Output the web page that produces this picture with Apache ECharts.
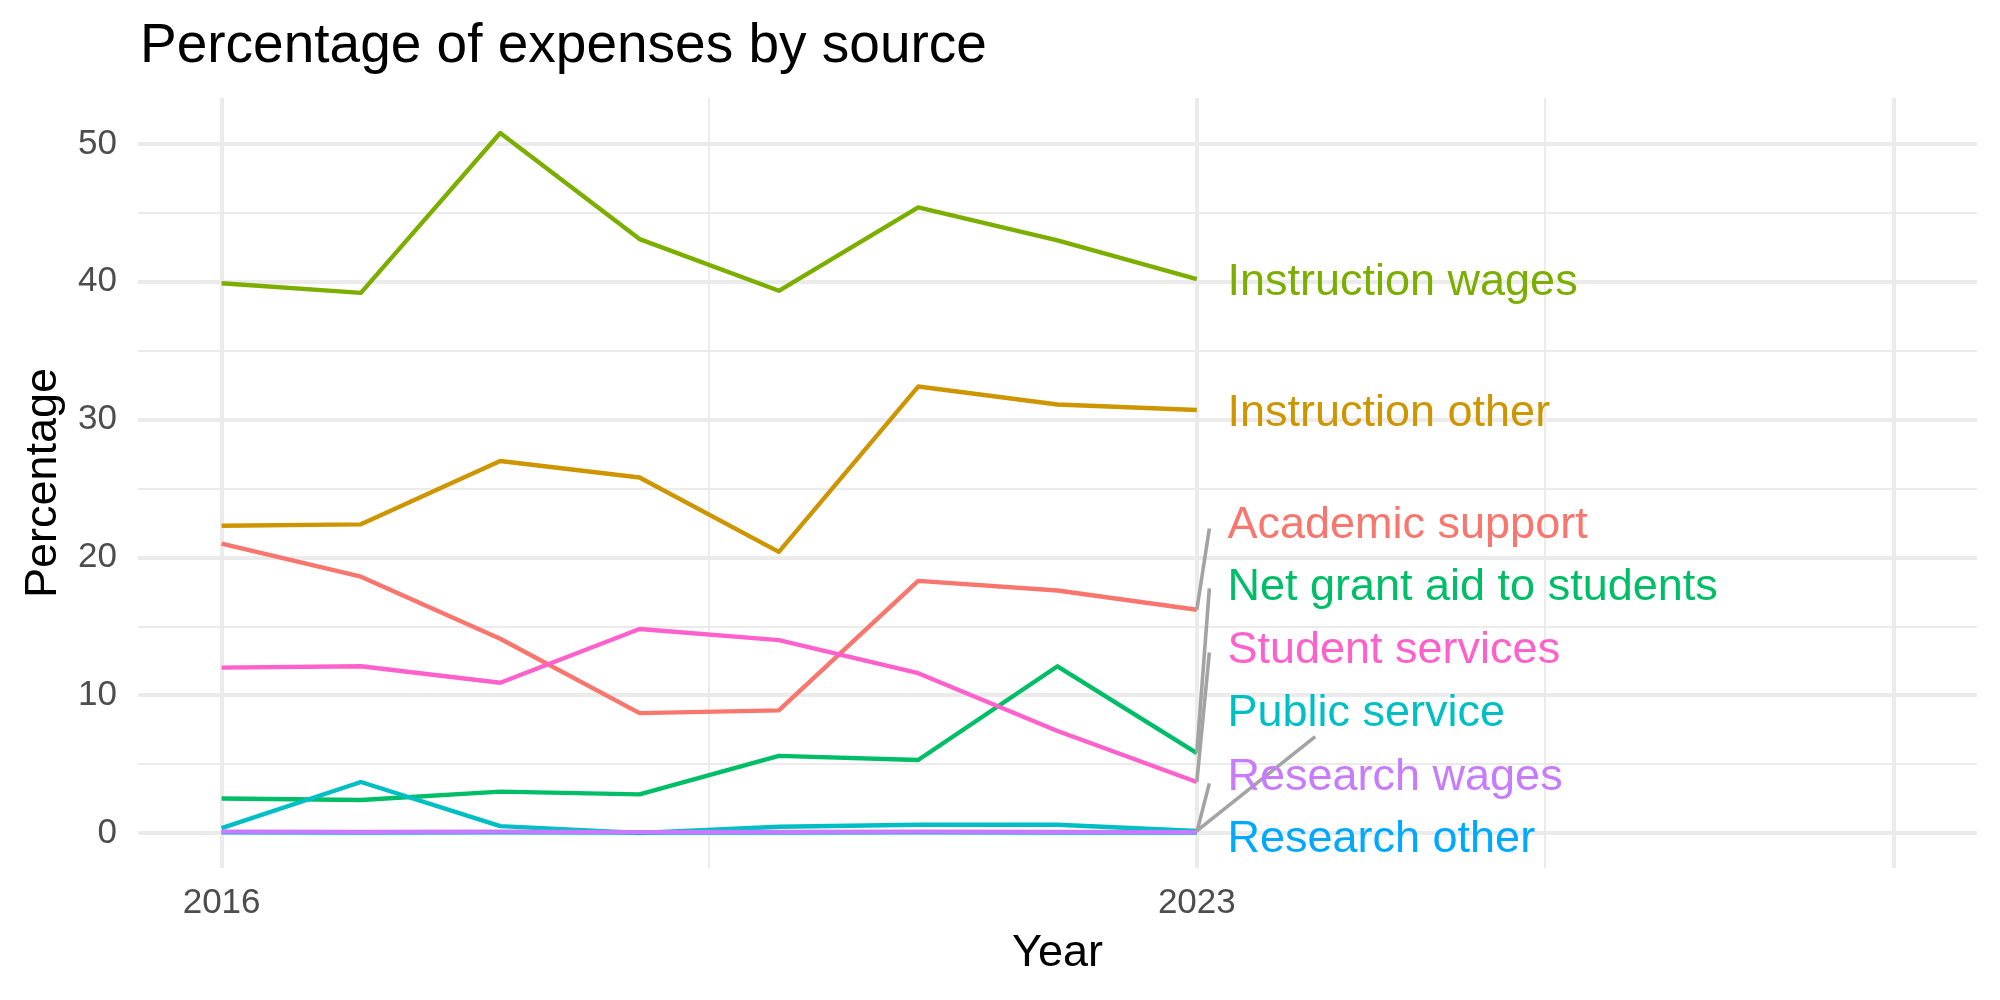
<!DOCTYPE html>
<html>
<head>
<meta charset="utf-8">
<script src="https://cdn.jsdelivr.net/npm/echarts@6/dist/echarts.min.js"></script>
<style>
  html, body { margin: 0; padding: 0; background: #fff; }
  #main { width: 2000px; height: 1000px; }
</style>
</head>
<body>
<div id="main"></div>
<script>
// data
const years = [2016, 2017, 2018, 2019, 2020, 2021, 2022, 2023]
const categories = [
  'Academic support', 'Instruction other', 'Instruction wages', 'Net grant aid to students',
  'Public service', 'Research other', 'Research wages', 'Student services'
]
const academicSupport = [21.0, 18.6, 14.1, 8.7, 8.9, 18.3, 17.6, 16.2]
const instructionOther = [22.3, 22.4, 27.0, 25.8, 20.4, 32.4, 31.1, 30.7]
const instructionWages = [39.9, 39.2, 50.8, 43.1, 39.35, 45.4, 43.0, 40.2]
const netGrantAid = [2.5, 2.4, 3.0, 2.8, 5.6, 5.3, 12.1, 5.8]
const publicService = [0.35, 3.7, 0.5, 0.0, 0.45, 0.6, 0.6, 0.15]
const researchOther = [0.05, 0.04, 0.05, 0.03, 0.04, 0.05, 0.04, 0.03]
const researchWages = [0.1, 0.08, 0.1, 0.06, 0.08, 0.1, 0.08, 0.06]
const studentServices = [12.0, 12.1, 10.9, 14.8, 14.0, 11.6, 7.4, 3.7]
const values = [academicSupport, instructionOther, instructionWages, netGrantAid,
  publicService, researchOther, researchWages, studentServices]

const xTickLabels = [2016, 2023]
const yTickLabels = [0, 10, 20, 30, 40, 50]

// layout (repelled label spots, leader ends, grid lines)
const labelX = 2023.22
const labelY = [22.33, 30.47, 39.92, 17.82, 8.67, -0.48, 4.05, 13.25]
const leaderEnd = [[2023.09, 22.1], null, null, [2023.09, 17.75], [2023.85, 7.0], null, [2023.09, 3.6], [2023.09, 13.1]]
const xMajor = [2016, 2023, 2028]
const xMinor = [2019.5, 2025.5]
const yMajor = [0, 10, 20, 30, 40, 50]
const yMinor = [5, 15, 25, 35, 45]

const colors = ['#F8766D', '#CD9600', '#7CAE00', '#00BE67', '#00BFC4', '#00A9FF', '#C77CFF', '#FF61CC']
const font = 'Liberation Sans'

const chart = echarts.init(document.getElementById('main'))

const gridLine = (key, v, w) => ({ [key]: v, lineStyle: { width: w, color: '#EBEBEB', type: 'solid' } })

const series = [
  {
    type: 'line',
    data: [],
    z: 0,
    silent: true,
    markLine: {
      z: 0,
      silent: true,
      symbol: 'none',
      label: { show: false },
      emphasis: { disabled: true },
      animation: false,
      data: [
        ...yMinor.map(v => gridLine('yAxis', v, 2)),
        ...xMinor.map(v => gridLine('xAxis', v, 2)),
        ...yMajor.map(v => gridLine('yAxis', v, 4)),
        ...xMajor.map(v => gridLine('xAxis', v, 4))
      ]
    }
  }
]

categories.forEach((name, i) => {
  series.push({
    name: name,
    type: 'line',
    z: 2,
    symbol: 'none',
    showSymbol: false,
    color: colors[i],
    lineStyle: { width: 4.4, color: colors[i], join: 'round', cap: 'butt' },
    emphasis: { disabled: true },
    data: years.map((y, j) => [y, values[i][j]])
  })
})

series.push({
  type: 'lines',
  coordinateSystem: 'cartesian2d',
  z: 3,
  silent: true,
  lineStyle: { color: '#A3A3A3', width: 3.6, opacity: 1 },
  data: categories.map((name, i) => leaderEnd[i] ? {
    coords: [[years[years.length - 1], values[i][values[i].length - 1]], leaderEnd[i]]
  } : null).filter(d => d)
})

series.push({
  type: 'scatter',
  z: 4,
  symbolSize: 0,
  silent: true,
  itemStyle: { opacity: 1 },
  data: categories.map((name, i) => ({
    name: name,
    value: [labelX, labelY[i]],
    label: { color: colors[i] }
  })),
  label: {
    show: true,
    position: 'right',
    distance: 0,
    formatter: p => p.name,
    fontFamily: font,
    fontSize: 45,
    opacity: 1,
    textBorderWidth: 0
  }
})

chart.setOption({
  animation: false,
  backgroundColor: '#ffffff',
  title: {
    text: 'Percentage of expenses by source',
    left: 140,
    top: 19,
    padding: 0,
    textStyle: { fontFamily: font, fontSize: 55, fontWeight: 'normal', color: '#000' }
  },
  grid: { left: 138, right: 23, top: 98, bottom: 132 },
  xAxis: {
    type: 'value',
    min: 2015.4,
    max: 2028.6,
    name: 'Year',
    nameLocation: 'middle',
    nameGap: 63,
    nameTextStyle: { fontFamily: font, fontSize: 45, color: '#000' },
    axisLine: { show: false },
    axisTick: { show: false },
    splitLine: { show: false },
    axisLabel: {
      customValues: xTickLabels,
      formatter: v => String(v),
      fontFamily: font,
      fontSize: 35,
      color: '#4D4D4D',
      margin: 18
    }
  },
  yAxis: {
    type: 'value',
    min: -2.54,
    max: 53.34,
    name: 'Percentage',
    nameLocation: 'middle',
    nameRotate: 90,
    nameGap: 72,
    nameTextStyle: { fontFamily: font, fontSize: 45, color: '#000' },
    axisLine: { show: false },
    axisTick: { show: false },
    splitLine: { show: false },
    axisLabel: {
      customValues: yTickLabels,
      fontFamily: font,
      fontSize: 35,
      color: '#4D4D4D',
      margin: 21
    }
  },
  series: series
})
</script>
</body>
</html>
